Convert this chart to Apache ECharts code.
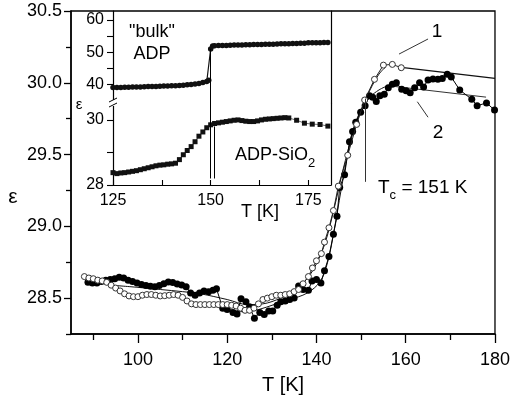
<!DOCTYPE html>
<html>
<head>
<meta charset="utf-8">
<script src="https://cdn.jsdelivr.net/npm/echarts@6/dist/echarts.min.js"></script>
<style>
  html, body { margin: 0; padding: 0; background: #fff; }
  #chart { width: 513px; height: 400px; }
</style>
</head>
<body>
<div id="chart"></div>
<script>
// main plot, curve 1 (open circles)
const t1 = [88,89,90,91,92,93,94,95,96,97,98,99,100,101,102,103,104,105,106,107,108,109,110,111,112,113,114,115,116,117,118,119,120,121,122,123,124,125,126,127,128,129,130,131,132,133,134,135,136,137,138.2,139.1,140,141.1,141.8,142.8,143.8,144.9,147,149,150.8,153,155,157,159];
const eps1 = [28.65,28.64,28.635,28.625,28.62,28.61,28.59,28.57,28.55,28.53,
  28.515,28.51,28.51,28.52,28.525,28.525,28.52,28.515,28.517,28.52,
  28.525,28.52,28.505,28.48,28.46,28.455,28.455,28.455,28.455,28.455,
  28.455,28.455,28.455,28.45,28.445,28.43,28.415,28.415,28.43,28.46,
  28.49,28.5,28.51,28.52,28.52,28.525,28.53,28.545,28.56,28.6,
  28.65,28.71,28.76,28.81,28.89,28.99,29.11,29.28,29.495,29.71,29.88,30.024,30.123,30.128,30.105];

// main plot, curve 2 (filled circles)
const t2 = [88.8,89.8,90.8,91.8,92.8,93.8,94.8,95.8,96.8,97.8,98.8,99.8,100.8,101.8,102.8,103.8,104.8,105.8,106.8,107.8,108.8,109.8,110.8,111.8,112.8,113.8,114.8,115.8,116.8,117.6,
  119,120,121.3,122.2,123.1,124.2,125,126.1,127.3,128.3,129.3,130.2,131.2,132,133,134,135,136,137,138.2,139,140,141,141.8,142.8,143.8,144.6,145.2,146.3,147.4,148.1,148.8,149.9,150.9,151.9,
  152.6,153.4,154.2,155.2,156.1,157,157.9,159.1,160.1,161,162,163.1,164,165,166.1,167.2,168.2,169.3,170.2,172.1,174.8,176,178.1,179.9];
const eps2 = [28.61,28.605,28.605,28.615,28.625,28.63,28.635,28.645,28.64,28.625,
  28.615,28.605,28.595,28.588,28.582,28.58,28.588,28.6,28.612,28.608,
  28.598,28.592,28.58,28.535,28.52,28.535,28.55,28.545,28.555,28.565,
  28.43,28.42,28.40,28.39,28.495,28.475,28.44,28.36,28.40,28.385,
  28.41,28.41,28.45,28.475,28.48,28.49,28.5,28.585,28.56,28.555,
  28.62,28.63,28.605,28.69,28.79,28.945,29.07,29.27,29.36,29.59,
  29.66,29.725,29.795,29.84,29.91,
  29.9,29.87,29.91,29.92,29.965,29.99,30.0,29.955,29.945,29.93,
  29.965,30.0,29.97,30.02,30.027,30.025,30.03,30.06,30.04,29.95,
  29.885,29.84,29.86,29.81];

// thin fitted curves
const fit1T = [94,100,105,110,114,120,124.6,128,132,135,138,140,142,144,146,148,150,152,154,155.5];
const fit1E = [28.59,28.575,28.56,28.545,28.53,28.49,28.455,28.46,28.5,28.55,28.64,28.74,28.89,29.13,29.4,29.63,29.81,29.95,30.06,30.11];
const fit2T = [118,122,124,127,130.5,134,137.9,140.8,142.5,144,145.5,147,148.5,150,152,154,156];
const fit2E = [28.44,28.41,28.405,28.42,28.455,28.49,28.535,28.615,28.75,28.98,29.25,29.5,29.7,29.81,29.9,29.95,29.98];
const tail1T = [159.5,180];
const tail1E = [30.105,30.031];
const tail2T = [156,178];
const tail2E = [29.98,29.90];

// inset: "bulk" ADP
const bulkT = [125,126,127,128,129,130,131,132,133,134,135,136,137,138,139,140,141,142,143,144,145,146,147,148,149,149.5,150,150.5,
  151,152,153,154,155,156,157,158,159,160,161,162,163,164,165,166,167,168,169,170,171,172,173,174,175,176,177,178,179,180];
const bulkE = [39.0,39.0,39.05,39.1,39.1,39.15,39.2,39.2,39.25,39.3,39.3,39.35,39.4,39.45,39.5,39.55,39.6,39.65,39.75,39.85,39.95,40.1,40.3,40.55,40.9,41.3,51.0,51.9,
  52.0,52.05,52.1,52.1,52.15,52.2,52.2,52.25,52.3,52.3,52.35,52.4,52.4,52.45,52.5,52.5,52.55,52.6,52.6,52.65,52.7,52.7,52.75,52.8,52.9,52.95,52.9,52.95,53.0,53.0];

// inset: ADP-SiO2
const sioT = [125,126,127,128,129,130,131,132,133,134,135,136,137,138,139,140,141,142,143,144,145,146,147,148,149,150,151,152,153,154,155,156,157,158,159,160,161,162,163,164,165,166,167,168,169,170,172,174,176,178,180];
const sioE = [28.38,28.35,28.37,28.38,28.40,28.42,28.44,28.47,28.5,28.53,28.56,28.59,28.61,28.62,28.64,28.65,28.67,28.78,28.93,29.06,29.18,29.33,29.5,29.63,29.76,29.85,29.89,29.91,29.93,29.95,29.97,29.99,30.0,29.98,29.96,29.95,29.95,29.97,30.0,30.02,30.03,30.04,30.05,30.06,30.07,30.06,29.99,29.9,29.87,29.86,29.81];

// ticks
const mainXLabels = [100,120,140,160,180];
const mainXMinor = [90,110,130,150,170];
const mainYLabels = [28.5,29.0,29.5,30.0,30.5];
const mainYMinor = [28.25,28.75,29.25,29.75,30.25];
const insetXTicks = [125,137.5,150,162.5,175];
const insetXLabels = [125,150,175];
const insetUpTicks = [40,45,50,55,60];
const insetUpLabels = [40,50,60];
const insetLowTicks = [28,29,30];
const insetLowLabels = [28,30];

const FONT = 'Liberation Sans, Arial, sans-serif';
const zip = (a, b) => a.map((v, i) => [v, b[i]]);
const black = '#000';

const axisLine = w => ({ show: true, lineStyle: { color: black, width: w } });

const chart = echarts.init(document.getElementById('chart'), null, { renderer: 'canvas' });

const thinLine = (name, t, e, extra) => Object.assign({
  name, type: 'line', data: zip(t, e), symbol: 'none', smooth: 0.35,
  lineStyle: { color: '#111', width: 1 }, z: 2, silent: true, animation: false
}, extra || {});

const vline = (x, y0, y1) => [{ coord: [x, y0] }, { coord: [x, y1] }];

chart.setOption({
  animation: false,
  backgroundColor: '#fff',
  grid: [
    { left: 71, right: 11, top: 11, bottom: 63, show: true, borderColor: black, borderWidth: 1.3 },
    { left: 113, width: 218, top: 11, height: 92 },
    { left: 113, width: 218, top: 103, height: 82 }
  ],
  xAxis: [
    { gridIndex: 0, type: 'value', min: 85, max: 180,
      axisLine: axisLine(1.5),
      axisTick: { customValues: mainXLabels, length: 9, lineStyle: { color: black, width: 1.3 } },
      axisLabel: { customValues: mainXLabels, fontSize: 18, color: black, fontFamily: FONT, margin: 17 },
      splitLine: { show: false },
      name: 'T [K]', nameLocation: 'middle', nameGap: 41,
      nameTextStyle: { fontSize: 20, color: black, fontFamily: FONT } },
    { gridIndex: 0, type: 'value', min: 85, max: 180, position: 'bottom',
      axisLine: { show: false },
      axisTick: { customValues: mainXMinor, length: 6, lineStyle: { color: black, width: 1.3 } },
      axisLabel: { show: false }, splitLine: { show: false } },
    { gridIndex: 1, type: 'value', min: 125, max: 180.8, show: false },
    { gridIndex: 2, type: 'value', min: 125, max: 180.8,
      axisLine: axisLine(1.2),
      axisTick: { inside: true, customValues: insetXTicks, length: 5, lineStyle: { color: black, width: 1.1 } },
      axisLabel: { customValues: insetXLabels, fontSize: 16, color: black, fontFamily: FONT, margin: 8 },
      splitLine: { show: false } }
  ],
  yAxis: [
    { gridIndex: 0, type: 'value', min: 28.25, max: 30.5,
      axisLine: axisLine(1.5),
      axisTick: { customValues: mainYLabels, length: 7, lineStyle: { color: black, width: 1.3 } },
      axisLabel: { customValues: mainYLabels, fontSize: 18, color: black, fontFamily: FONT, margin: 9,
        formatter: v => Number(v).toFixed(1) },
      splitLine: { show: false } },
    { gridIndex: 0, type: 'value', min: 28.25, max: 30.5, position: 'left',
      axisLine: { show: false },
      axisTick: { customValues: mainYMinor, length: 5, lineStyle: { color: black, width: 1.3 } },
      axisLabel: { show: false }, splitLine: { show: false } },
    { gridIndex: 1, type: 'value', min: 34.2, max: 62.8,
      axisLine: axisLine(1.2),
      axisTick: { customValues: insetUpTicks, length: 6, lineStyle: { color: black, width: 1.1 } },
      axisLabel: { customValues: insetUpLabels, fontSize: 16, color: black, fontFamily: FONT, margin: 9 },
      splitLine: { show: false } },
    { gridIndex: 2, type: 'value', min: 28, max: 30.52,
      axisLine: axisLine(1.2),
      axisTick: { customValues: insetLowTicks, length: 6, lineStyle: { color: black, width: 1.1 } },
      axisLabel: { customValues: insetLowLabels, fontSize: 16, color: black, fontFamily: FONT, margin: 9 },
      splitLine: { show: false } },
    { gridIndex: 1, type: 'value', min: 34.2, max: 62.8, position: 'right',
      axisLine: axisLine(1.2), axisTick: { show: false }, axisLabel: { show: false }, splitLine: { show: false } },
    { gridIndex: 2, type: 'value', min: 28, max: 30.52, position: 'right',
      axisLine: axisLine(1.2), axisTick: { show: false }, axisLabel: { show: false }, splitLine: { show: false } }
  ],
  series: [
    thinLine('fit1', fit1T, fit1E),
    thinLine('fit2', fit2T, fit2E),
    thinLine('tail1', tail1T, tail1E, { smooth: false, lineStyle: { color: '#111', width: 1.3 },
      markLine: { symbol: 'none', silent: true, label: { show: false },
        lineStyle: { color: '#333', width: 1, type: 'solid' },
        data: [vline(151, 29.89, 29.31), [{ coord: [158.5, 30.2] }, { coord: [165, 30.305] }],
               [{ coord: [162.6, 29.868] }, { coord: [165, 29.76] }]] } }),
    thinLine('tail2', tail2T, tail2E, { smooth: false, lineStyle: { color: '#333', width: 1 } }),
    { name: '2', type: 'line', data: zip(t2, eps2), symbol: 'circle', symbolSize: 7,
      itemStyle: { color: black }, lineStyle: { color: black, width: 1 }, z: 3 },
    { name: '1', type: 'line', data: zip(t1, eps1), symbol: 'circle', symbolSize: 6,
      itemStyle: { color: '#fff', borderColor: '#333', borderWidth: 1 },
      lineStyle: { color: '#222', width: 1 }, z: 4 },
    { name: 'bulk', type: 'line', xAxisIndex: 2, yAxisIndex: 2, data: zip(bulkT, bulkE),
      symbol: 'circle', symbolSize: 5.5, itemStyle: { color: '#111' }, lineStyle: { color: '#111', width: 1.2 },
      markLine: { symbol: 'none', silent: true, label: { show: false },
        lineStyle: { color: black, width: 1, type: 'solid' },
        data: [vline(150, 51, 34.2)] } },
    { name: 'ADP-SiO2', type: 'line', xAxisIndex: 3, yAxisIndex: 3, data: zip(sioT, sioE),
      symbol: 'rect', symbolSize: 5, itemStyle: { color: '#111' }, lineStyle: { color: '#444', width: 0.8 },
      markLine: { symbol: 'none', silent: true, label: { show: false },
        lineStyle: { color: black, width: 1, type: 'solid' },
        data: [vline(150, 30.52, 28.2), vline(151, 29.8, 28.2)] } }
  ],
  graphic: [
    { type: 'rect', shape: { x: 110, y: 100, width: 6, height: 6 }, style: { fill: '#fff' }, z: 100 },
    { type: 'line', shape: { x1: 109, y1: 102, x2: 117, y2: 98 }, style: { stroke: black, lineWidth: 1 }, z: 101 },
    { type: 'line', shape: { x1: 109, y1: 107, x2: 117, y2: 103 }, style: { stroke: black, lineWidth: 1 }, z: 101 },
    { type: 'text', x: 13, y: 197, z: 100, style: { text: 'ε', fontSize: 21, fontFamily: FONT, fill: black, align: 'center', verticalAlign: 'middle' } },
    { type: 'text', x: 79, y: 105, z: 100, style: { text: 'ε', fontSize: 15, fontFamily: FONT, fill: black, align: 'center', verticalAlign: 'middle' } },
    { type: 'text', x: 152, y: 32, z: 100, style: { text: '"bulk"', fontSize: 18, fontFamily: FONT, fill: black, align: 'center', verticalAlign: 'middle' } },
    { type: 'text', x: 152, y: 54, z: 100, style: { text: 'ADP', fontSize: 18, fontFamily: FONT, fill: black, align: 'center', verticalAlign: 'middle' } },
    { type: 'text', x: 260, y: 212, z: 100, style: { text: 'T [K]', fontSize: 18, fontFamily: FONT, fill: black, align: 'center', verticalAlign: 'middle' } },
    { type: 'text', x: 437, y: 32, z: 100, style: { text: '1', fontSize: 19, fontFamily: FONT, fill: black, align: 'center', verticalAlign: 'middle' } },
    { type: 'text', x: 438, y: 133, z: 100, style: { text: '2', fontSize: 19, fontFamily: FONT, fill: black, align: 'center', verticalAlign: 'middle' } },
    { type: 'text', x: 235, y: 158, z: 100, style: {
      text: '{n|ADP-SiO}{s|2}', fontFamily: FONT, fill: black, align: 'left', verticalAlign: 'middle',
      rich: { n: { fontSize: 18, fontFamily: FONT, padding: [0, 0, 5, 0], verticalAlign: 'bottom' },
              s: { fontSize: 13, fontFamily: FONT, verticalAlign: 'bottom' } } } },
    { type: 'text', x: 378, y: 190, z: 100, style: {
      text: '{n|T}{s|c}{n| = 151 K}', fontFamily: FONT, fill: black, align: 'left', verticalAlign: 'middle',
      rich: { n: { fontSize: 19, fontFamily: FONT, padding: [0, 0, 5, 0], verticalAlign: 'bottom' },
              s: { fontSize: 13, fontFamily: FONT, verticalAlign: 'bottom' } } } }
  ]
});
</script>
</body>
</html>
